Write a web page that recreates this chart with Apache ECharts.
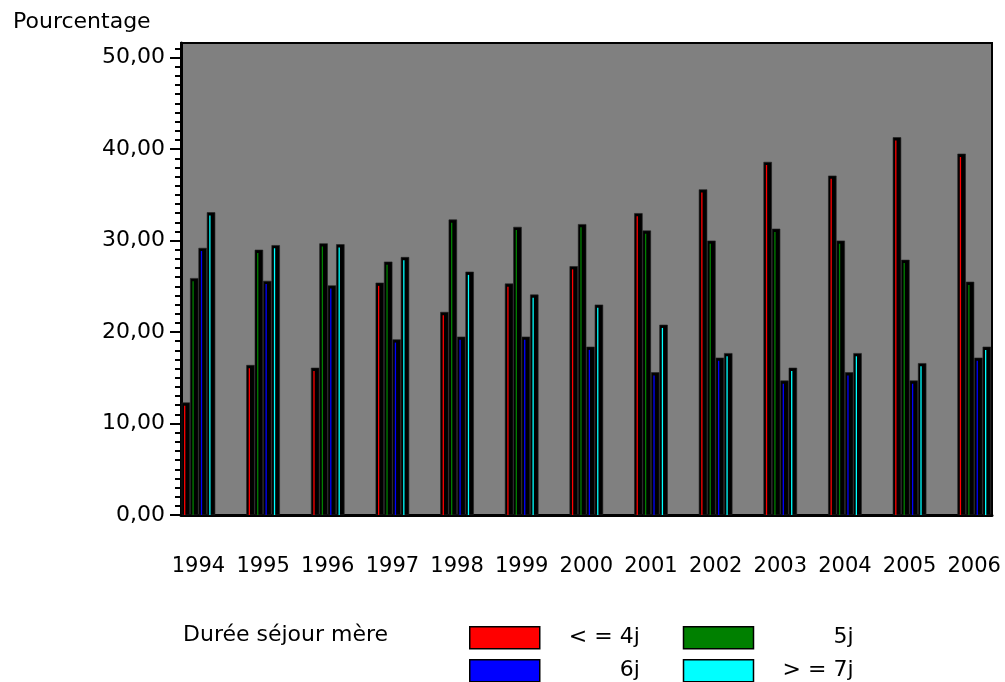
<!DOCTYPE html>
<html>
<head>
<meta charset="utf-8">
<script src="https://cdn.jsdelivr.net/npm/echarts@6/dist/echarts.min.js"></script>
<style>html,body{margin:0;padding:0;background:#fff;}#c{width:1005px;height:682px;}</style>
</head>
<body>
<div id="c"></div>
<script>
const years = ['1994','1995','1996','1997','1998','1999','2000','2001','2002','2003','2004','2005','2006'];
const seriesNames = ['< = 4j', '5j', '6j', '> = 7j'];
const le4 = [12.3, 16.4, 16.1, 25.4, 22.2, 25.3, 27.2, 33.0, 35.6, 38.6, 37.1, 41.3, 39.5];
const d5  = [25.9, 29.0, 29.7, 27.7, 32.3, 31.5, 31.8, 31.1, 30.0, 31.3, 30.0, 27.9, 25.5];
const d6  = [29.2, 25.6, 25.1, 19.2, 19.5, 19.5, 18.4, 15.6, 17.2, 14.7, 15.6, 14.7, 17.2];
const ge7 = [33.1, 29.5, 29.6, 28.2, 26.6, 24.1, 23.0, 20.8, 17.7, 16.1, 17.7, 16.6, 18.4];
const yTicks = [0, 10, 20, 30, 40, 50];
const colors = ['#ff0000', '#008000', '#0000ff', '#00ffff'];

const values = [le4, d5, d6, ge7];
const font = 'DejaVu Sans';
const xIdx = years.map((y, i) => i);

const chart = echarts.init(document.getElementById('c'), null, {renderer: 'canvas'});
const series = [];
values.forEach((vals, k) => {
  series.push({
    type: 'bar', name: 'bg' + k, xAxisIndex: 0, yAxisIndex: 0,
    data: vals.map((v, i) => [i, v]),
    barWidth: 8.4, barGap: '0%',
    itemStyle: {color: '#000', borderColor: '#202020', borderWidth: 0.6},
    silent: true
  });
});
values.forEach((vals, k) => {
  series.push({
    type: 'bar', name: seriesNames[k], xAxisIndex: 1, yAxisIndex: 0,
    data: vals.map((v, i) => [i, v - 0.35]),
    barWidth: 1.3, barGap: '546%',
    itemStyle: {color: colors[k], borderWidth: 0}
  });
});

const legendCommon = {
  orient: 'horizontal', icon: 'rect', itemWidth: 70, itemHeight: 22, itemGap: 43,
  left: 464,
  itemStyle: {borderColor: '#000', borderWidth: 1.5},
  formatter: name => '{r|' + name + '}',
  textStyle: {color: '#000', fontFamily: font, fontSize: 22,
    rich: {r: {width: 95, align: 'right', fontFamily: font, fontSize: 22, color: '#000'}}},
  selectedMode: false
};

chart.setOption({
  animation: false,
  backgroundColor: '#fff',
  title: [
    {text: 'Pourcentage', left: 8, top: 6, textStyle: {fontFamily: font, fontSize: 22, fontWeight: 'normal', color: '#000'}},
    {text: 'Durée séjour mère', left: 178, top: 619, textStyle: {fontFamily: font, fontSize: 22, fontWeight: 'normal', color: '#000'}}
  ],
  legend: [
    Object.assign({}, legendCommon, {top: 621, data: [seriesNames[0], seriesNames[1]]}),
    Object.assign({}, legendCommon, {top: 654, data: [seriesNames[2], seriesNames[3]]})
  ],
  grid: {left: 181, right: 13, top: 43, bottom: 167, show: true, backgroundColor: '#808080', borderColor: '#000', borderWidth: 2, containLabel: false},
  xAxis: [
    {type: 'value', min: -0.27, max: 12.275,
      axisLine: {show: true, onZero: false, lineStyle: {color: '#000', width: 3}},
      axisTick: {show: false}, splitLine: {show: false},
      axisLabel: {customValues: xIdx, formatter: v => years[Math.round(v)] || '', color: '#000', fontFamily: font, fontSize: 21, margin: 41}
    },
    {type: 'value', min: -0.252, max: 12.293, show: false, splitLine: {show: false}}
  ],
  yAxis: {
    type: 'value', min: 0, max: 51.6, interval: 10,
    axisLine: {show: true, onZero: false, lineStyle: {color: '#000', width: 3}},
    axisTick: {show: true, customValues: yTicks, length: 11, lineStyle: {color: '#000', width: 2}},
    minorTick: {show: true, splitNumber: 10, length: 6, lineStyle: {color: '#000', width: 2}},
    splitLine: {show: false}, minorSplitLine: {show: false},
    axisLabel: {customValues: yTicks, formatter: v => v.toFixed(2).replace('.', ','), color: '#000', fontFamily: font, fontSize: 22, margin: 16}
  },
  series: series
});
</script>
</body>
</html>
